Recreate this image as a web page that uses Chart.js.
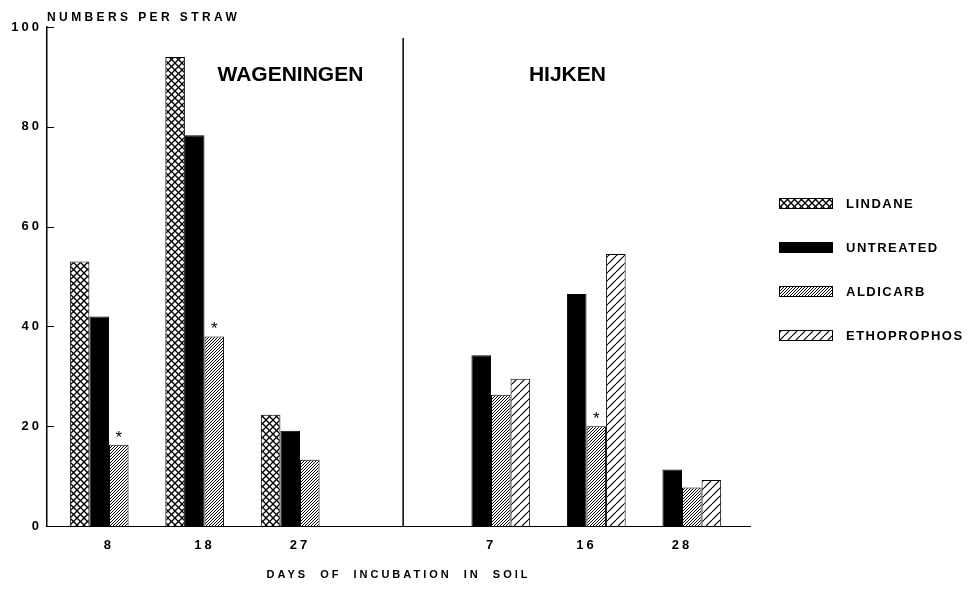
<!DOCTYPE html>
<html>
<head>
<meta charset="utf-8">
<script src="https://cdn.jsdelivr.net/npm/chart.js@4.4.0/dist/chart.umd.min.js"></script>
<style>
    html, body { margin: 0; padding: 0; background: #fff; }
</style>
</head>
<body>
<canvas id="strawChart" width="972" height="592"></canvas>
<script>
// x slots 1..7, slot 4 is the empty gap between the two sites
const days = ['8', '18', '27', '', '7', '16', '28'];
const sites = ['WAGENINGEN', 'HIJKEN'];
const seriesNames = ['LINDANE', 'UNTREATED', 'ALDICARB', 'ETHOPROPHOS'];
const lindane = [53, 94, 22.3, null, null, null, null];
const untreated = [42, 78.3, 19.1, null, 34.2, 46.5, 11.3];
const aldicarb = [16.3, 38, 13.3, null, 26.3, 20, 7.7];
const ethoprophos = [null, null, null, null, 29.5, 54.5, 9.2];
const aldicarbStar = [true, true, false, false, false, true, false];
const yTicks = [0, 20, 40, 60, 80, 100];
const yTitle = 'NUMBERS PER STRAW';
const xTitle = 'DAYS OF INCUBATION IN SOIL';

const FONT = "'Liberation Sans', Arial, sans-serif";

// hatch fill, lines '/' and/or '\'
function hatch(size, lineW, dirs) {
    const c = document.createElement('canvas');
    c.width = size;
    c.height = size;
    const g = c.getContext('2d');
    g.fillStyle = '#fff';
    g.fillRect(0, 0, size, size);
    g.strokeStyle = '#000';
    g.lineWidth = lineW;
    dirs.forEach(d => {
        [-size, 0, size].forEach(o => {
            g.beginPath();
            if (d === '/') {
                g.moveTo(o, size);
                g.lineTo(o + size, 0);
            } else {
                g.moveTo(o, 0);
                g.lineTo(o + size, size);
            }
            g.stroke();
        });
    });
    return g.createPattern(c, 'repeat');
}

const fills = [
    hatch(7, 1.3, ['/', '\\']),  // lindane
    '#000',                      // untreated
    hatch(3, 1, ['/']),          // aldicarb
    hatch(8, 1.2, ['/'])         // ethoprophos
];

const toPoints = arr => arr.map((v, i) => ({ x: i + 1, y: v })).filter(p => p.y !== null);

const datasets = [lindane, untreated, aldicarb, ethoprophos].map((arr, k) => ({
    label: seriesNames[k],
    data: toPoints(arr),
    backgroundColor: fills[k],
    borderColor: '#000',
    borderWidth: 1
}));

const extras = {
    id: 'extras',
    beforeDraw(chart) {
        chart.ctx.letterSpacing = '3px';
        chart.ctx.wordSpacing = '6px';
    },
    afterDraw(chart) {
        const ctx = chart.ctx;
        const xs = chart.scales.x;
        const ys = chart.scales.y;
        const left = chart.chartArea.left;
        ctx.save();
        ctx.strokeStyle = '#000';
        ctx.fillStyle = '#000';

        // inward tick marks on the y axis
        ctx.lineWidth = 1;
        yTicks.forEach(t => {
            const y = Math.round(ys.getPixelForValue(t)) + 0.5;
            ctx.beginPath();
            ctx.moveTo(left, y);
            ctx.lineTo(left + 7, y);
            ctx.stroke();
        });

        // divider between the two sites
        ctx.lineWidth = 1.5;
        const dx = xs.getPixelForValue(4.08);
        ctx.beginPath();
        ctx.moveTo(dx, ys.getPixelForValue(97.8));
        ctx.lineTo(dx, ys.getPixelForValue(0));
        ctx.stroke();

        // y title
        ctx.letterSpacing = '3.4px';
        ctx.wordSpacing = '0px';
        ctx.font = 'bold 12px ' + FONT;
        ctx.textAlign = 'left';
        ctx.textBaseline = 'middle';
        ctx.fillText(yTitle, left, 18);

        // site names
        ctx.letterSpacing = '0px';
        ctx.font = 'bold 21px ' + FONT;
        ctx.textAlign = 'center';
        [2.9, 5.8].forEach((v, i) => {
            ctx.fillText(sites[i], xs.getPixelForValue(v), ys.getPixelForValue(90.4));
        });

        // significance stars on aldicarb
        const meta = chart.getDatasetMeta(2);
        ctx.font = '17px ' + FONT;
        ctx.textBaseline = 'alphabetic';
        meta.data.forEach((bar, j) => {
            const p = meta._parsed[j];
            if (aldicarbStar[p.x - 1]) {
                ctx.fillText('*', bar.x, bar.y - 2);
            }
        });

        // legend
        ctx.letterSpacing = '1.5px';
        ctx.font = 'bold 13px ' + FONT;
        ctx.textAlign = 'left';
        ctx.textBaseline = 'middle';
        ctx.lineWidth = 1;
        chart.data.datasets.forEach((ds, k) => {
            const cy = 203 + k * 44;
            ctx.fillStyle = ds.backgroundColor;
            ctx.fillRect(779, cy - 5, 54, 11);
            ctx.strokeRect(779.5, cy - 4.5, 53, 10);
            ctx.fillStyle = '#000';
            ctx.fillText(ds.label, 846, cy + 1);
        });
        ctx.restore();
        ctx.letterSpacing = '0px';
        ctx.wordSpacing = '0px';
    }
};

new Chart(document.getElementById('strawChart').getContext('2d'), {
    type: 'bar',
    data: { datasets: datasets },
    options: {
        responsive: false,
        animation: false,
        devicePixelRatio: 1,
        categoryPercentage: 0.82,
        barPercentage: 1,
        layout: { padding: { top: 27, right: 222, left: 0, bottom: 0 } },
        plugins: {
            legend: { display: false },
            tooltip: { enabled: false }
        },
        scales: {
            x: {
                type: 'linear',
                offset: false,
                min: 0.351,
                max: 7.712,
                afterBuildTicks: scale => {
                    scale.ticks = days.map((d, i) => ({ value: i + 1 }));
                },
                afterFit: scale => { scale.height = 66; },
                grid: { display: false },
                border: { display: true, color: '#000', width: 1 },
                ticks: {
                    autoSkip: false,
                    maxRotation: 0,
                    padding: 4,
                    color: '#000',
                    font: { family: FONT, size: 13, weight: 'bold' },
                    callback: v => days[v - 1]
                },
                title: {
                    display: true,
                    text: xTitle,
                    color: '#000',
                    font: { family: FONT, size: 11, weight: 'bold' },
                    padding: { top: 0, bottom: 10 }
                }
            },
            y: {
                min: 0,
                max: 100,
                afterBuildTicks: scale => {
                    scale.ticks = yTicks.map(v => ({ value: v }));
                },
                afterFit: scale => { scale.width = 47; },
                grid: { display: false },
                border: { display: true, color: '#000', width: 1.5 },
                ticks: {
                    padding: -3,
                    color: '#000',
                    font: { family: FONT, size: 13, weight: 'bold' }
                }
            }
        }
    },
    plugins: [extras]
});
</script>
</body>
</html>
